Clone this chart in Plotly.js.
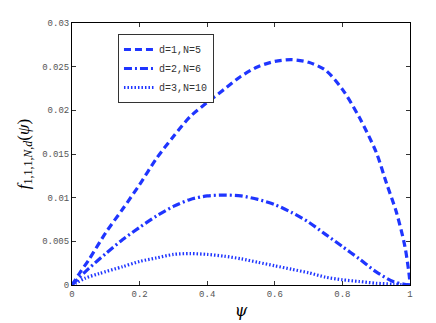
<!DOCTYPE html>
<html><head><meta charset="utf-8">
<script src="https://cdn.plot.ly/plotly-3.0.1.min.js"></script>
<style>html,body{margin:0;padding:0;background:#fff;}#plot{width:436px;height:323px;}</style>
</head><body><div id="plot"></div>
<script>
const seriesNames = ["d=1,N=5", "d=2,N=6", "d=3,N=10"];
const x1 = [0, 0.01, 0.025, 0.05, 0.1, 0.15, 0.2, 0.25, 0.3, 0.35, 0.4, 0.45, 0.5, 0.55, 0.6, 0.65, 0.7, 0.75, 0.8, 0.85, 0.9, 0.93, 0.96, 0.985, 0.998, 1.0];
const y1 = [0, 0.0006, 0.0015, 0.0029, 0.0060, 0.0087, 0.0115, 0.0145, 0.0170, 0.0193, 0.0209, 0.0224, 0.0239, 0.0250, 0.0256, 0.0258, 0.0255, 0.0246, 0.0224, 0.0192, 0.0152, 0.0117, 0.0083, 0.0044, 0.0010, 0];
const x2 = [0, 0.01, 0.05, 0.1, 0.15, 0.2, 0.25, 0.3, 0.35, 0.4, 0.45, 0.5, 0.55, 0.6, 0.65, 0.7, 0.75, 0.8, 0.85, 0.9, 0.95, 0.98, 1.0];
const y2 = [0, 0.0004, 0.0019, 0.0036, 0.0052, 0.0066, 0.0079, 0.0090, 0.0098, 0.0102, 0.0103, 0.0102, 0.0098, 0.0092, 0.0083, 0.0072, 0.0058, 0.0044, 0.0030, 0.0015, 0.0004, 0.0001, 0];
const x3 = [0, 0.01, 0.04, 0.08, 0.15, 0.2, 0.25, 0.3, 0.35, 0.4, 0.45, 0.5, 0.55, 0.6, 0.65, 0.7, 0.75, 0.8, 0.85, 0.9, 0.95, 1.0];
const y3 = [0, 0.0002, 0.0008, 0.0013, 0.0021, 0.0027, 0.0031, 0.0035, 0.0036, 0.0035, 0.0033, 0.0030, 0.0026, 0.0022, 0.0018, 0.0014, 0.0009, 0.0006, 0.0004, 0.0002, 0.0001, 0];
const xTicks = [0, 0.2, 0.4, 0.6, 0.8, 1];
const xTickText = ["0", "0.2", "0.4", "0.6", "0.8", "1"];
const yTicks = [0, 0.005, 0.01, 0.015, 0.02, 0.025, 0.03];
const yTickText = ["0", "0.005", "0.01", "0.015", "0.02", "0.025", "0.03"];

const blue = "#1f35ff";
const traces = [
  {x: x1, y: y1, name: seriesNames[0], mode: "lines", line: {color: blue, width: 3.2, dash: "7px,4px", shape: "spline", smoothing: 0.8}},
  {x: x2, y: y2, name: seriesNames[1], mode: "lines", line: {color: blue, width: 3.2, dash: "8px,3px,2px,3px", shape: "spline", smoothing: 0.8}},
  {x: x3, y: y3, name: seriesNames[2], mode: "lines", line: {color: blue, width: 3.2, dash: "1.5px,2px", shape: "spline", smoothing: 0.8}}
];
const monoFont = "'Liberation Mono', 'Courier New', monospace";
const axisCommon = {
  showline: true, linecolor: "#000", linewidth: 1, mirror: "ticks",
  ticks: "inside", ticklen: 4, tickcolor: "#333", showgrid: false, zeroline: false,
  tickfont: {family: monoFont, size: 9, color: "#555"}
};
const layout = {
  width: 436, height: 323,
  margin: {l: 72, r: 26, t: 23, b: 38},
  paper_bgcolor: "#fff", plot_bgcolor: "#fff",
  showlegend: true,
  legend: {x: 0.136, y: 0.958, xanchor: "left", yanchor: "top", bordercolor: "#333", borderwidth: 1,
    bgcolor: "#fff", font: {family: monoFont, size: 10, color: "#333"},
    tracegroupgap: 0, itemwidth: 30},
  xaxis: Object.assign({}, axisCommon, {range: [0, 1], tickvals: xTicks, ticktext: xTickText,
    title: {text: "<i>ψ</i>", font: {family: "DejaVu Serif, Liberation Serif, serif", size: 16, color: "#000"}, standoff: 6}}),
  yaxis: Object.assign({}, axisCommon, {range: [0, 0.03], tickvals: yTicks, ticktext: yTickText,
    title: {text: "<i>f</i><sub>1,1,1,<i>N</i>,<i>d</i></sub>(<i>ψ</i>)", font: {family: "Liberation Serif, DejaVu Serif, serif", size: 17, color: "#000"}, standoff: 8}})
};
Plotly.newPlot("plot", traces, layout, {displayModeBar: false, staticPlot: true});
</script>
</body></html>
